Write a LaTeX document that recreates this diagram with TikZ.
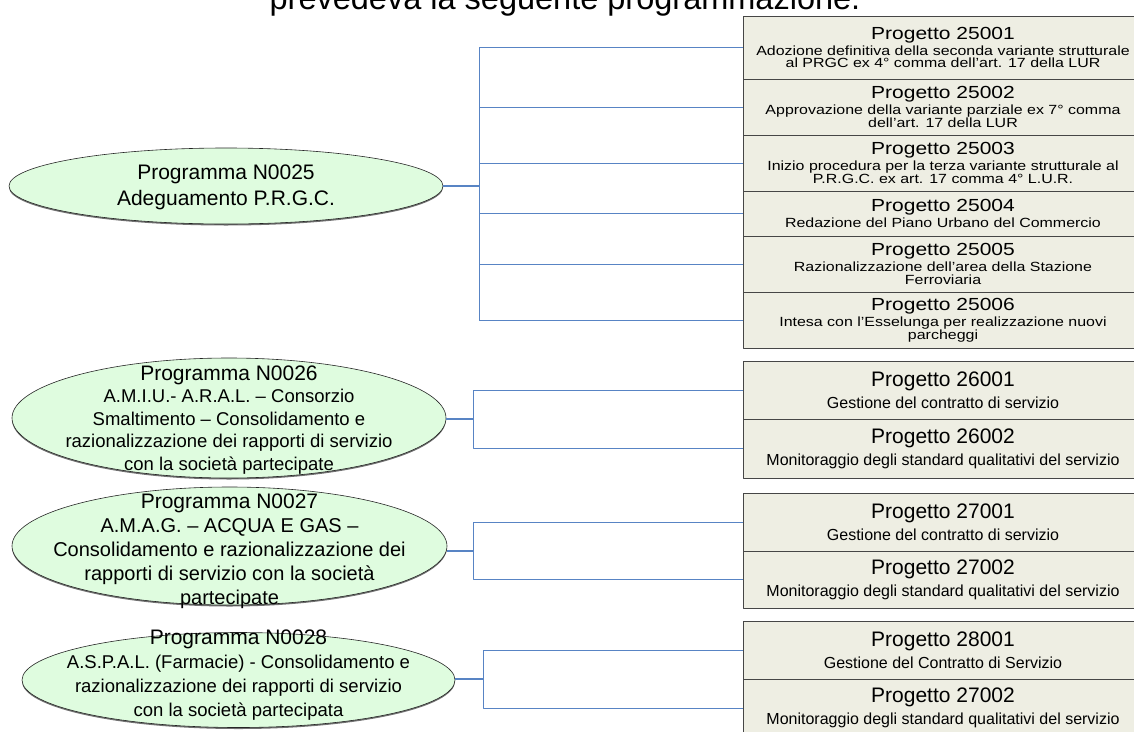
\documentclass[tikz,border=0pt]{standalone}
\usepackage{fontspec}
\setmainfont{Liberation Sans}
\newfontfamily\squish[FakeStretch=1.2]{Liberation Sans}
\usetikzlibrary{shapes.geometric,shadows}
\definecolor{progfill}{RGB}{223,252,223}
\definecolor{boxfill}{RGB}{238,238,227}
\definecolor{boxline}{RGB}{70,70,70}
\definecolor{linkblue}{RGB}{88,132,196}
\begin{document}
\begin{tikzpicture}[x=1pt,y=1pt,line join=round,
	prog/.style={ellipse,draw=black!85,line width=0.6pt,fill=progfill,inner sep=0pt,
		drop shadow={shadow xshift=0pt,shadow yshift=-1.5pt,fill=black!70,opacity=0.8}},
	progtext/.style={align=center,inner sep=0pt},
	proj/.style={rectangle,draw=boxline,line width=0.9pt,fill=boxfill,anchor=north west,
		minimum width=400pt,inner sep=0pt,outer sep=0pt,align=center},
	link/.style={draw=linkblue,line width=0.8pt},
	stub/.style={draw=linkblue,line width=1.5pt}]
	\def\picw{1134};
	\def\pich{731};
	\useasboundingbox (0,0) rectangle (\picw,-\pich);
	\clip (0,0) rectangle (\picw,-\pich);
	\node[anchor=base,inner sep=0pt,font=\fontsize{32.5}{36}\selectfont] (intro) at (565,-9) {prevedeva la seguente programmazione.};
	% programmi
	\node[prog,minimum width=434pt,minimum height=76pt] (e25) at (226,-186) {};
	\node[prog,minimum width=434pt,minimum height=120pt] (e26) at (229,-418) {};
	\node[prog,minimum width=435pt,minimum height=118pt] (e27) at (229.5,-546) {};
	\node[prog,minimum width=433pt,minimum height=95pt] (e28) at (238.5,-680) {};
	\node[progtext,font=\fontsize{21}{26}\selectfont] (t25) at (226,-187) {Programma N0025\\Adeguamento P.R.G.C.};
	\node[progtext,font=\fontsize{18.5}{22.5}\selectfont] (t26) at (229,-420) {{\fontsize{21}{22.5}\selectfont Programma N0026}\\A.M.I.U.- A.R.A.L. – Consorzio\\Smaltimento – Consolidamento e\\razionalizzazione dei rapporti di servizio\\con la società partecipate};
	\node[progtext,font=\fontsize{20}{24}\selectfont] (t27) at (229.5,-551) {{\fontsize{21}{24}\selectfont Programma N0027}\\A.M.A.G. – ACQUA E GAS –\\Consolidamento e razionalizzazione dei\\rapporti di servizio con la società\\partecipate};
	\node[progtext,font=\fontsize{18.5}{24}\selectfont] (t28) at (238.5,-675) {{\fontsize{21}{24}\selectfont Programma N0028}\\A.S.P.A.L. (Farmacie) - Consolidamento e\\razionalizzazione dei rapporti di servizio\\con la società partecipata};
	% progetti 25
	\node[proj,minimum height=63pt,font=\squish\fontsize{13.3}{12.5}\selectfont] (b25a) at (743,-16) {{\fontsize{17.5}{17}\selectfont Progetto 25001}\\[2pt]Adozione definitiva della seconda variante strutturale\\al PRGC ex 4° comma dell’art. 17 della LUR};
	\node[proj,minimum height=56pt,font=\squish\fontsize{13.3}{12.5}\selectfont] (b25b) at (b25a.south west) {{\fontsize{17.5}{17}\selectfont Progetto 25002}\\[2pt]Approvazione della variante parziale ex 7° comma\\dell’art. 17 della LUR};
	\node[proj,minimum height=56pt,font=\squish\fontsize{13.3}{12.5}\selectfont] (b25c) at (b25b.south west) {{\fontsize{17.5}{17}\selectfont Progetto 25003}\\[2pt]Inizio procedura per la terza variante strutturale al\\P.R.G.C. ex art. 17 comma 4° L.U.R.};
	\node[proj,minimum height=45pt,font=\squish\fontsize{13.3}{12.5}\selectfont] (b25d) at (b25c.south west) {{\fontsize{17.5}{17}\selectfont Progetto 25004}\\[2pt]Redazione del Piano Urbano del Commercio};
	\node[proj,minimum height=56pt,font=\squish\fontsize{13.3}{12.5}\selectfont] (b25e) at (b25d.south west) {{\fontsize{17.5}{17}\selectfont Progetto 25005}\\[2pt]Razionalizzazione dell’area della Stazione\\Ferroviaria};
	\node[proj,minimum height=56pt,font=\squish\fontsize{13.3}{12.5}\selectfont] (b25f) at (b25e.south west) {{\fontsize{17.5}{17}\selectfont Progetto 25006}\\[2pt]Intesa con l’Esselunga per realizzazione nuovi\\parcheggi};
	% progetti 26, 27, 28
	\node[proj,minimum height=58pt,font=\fontsize{16}{22}\selectfont] (b26a) at (743,-361) {{\fontsize{21}{22}\selectfont Progetto 26001}\\Gestione del contratto di servizio};
	\node[proj,minimum height=59pt,font=\fontsize{16}{22}\selectfont] (b26b) at (b26a.south west) {{\fontsize{21}{22}\selectfont Progetto 26002}\\Monitoraggio degli standard qualitativi del servizio};
	\node[proj,minimum height=58pt,font=\fontsize{16}{22}\selectfont] (b27a) at (743,-493) {{\fontsize{21}{22}\selectfont Progetto 27001}\\Gestione del contratto di servizio};
	\node[proj,minimum height=57pt,font=\fontsize{16}{22}\selectfont] (b27b) at (b27a.south west) {{\fontsize{21}{22}\selectfont Progetto 27002}\\Monitoraggio degli standard qualitativi del servizio};
	\node[proj,minimum height=58pt,font=\fontsize{16}{22}\selectfont] (b28a) at (743,-621) {{\fontsize{21}{22}\selectfont Progetto 28001}\\Gestione del Contratto di Servizio};
	\node[proj,minimum height=58pt,font=\fontsize{16}{22}\selectfont] (b28b) at (b28a.south west) {{\fontsize{21}{22}\selectfont Progetto 27002}\\Monitoraggio degli standard qualitativi del servizio};
	% collegamenti
	\coordinate (j25) at (479,-186);
	\coordinate (j26) at (473,-419);
	\coordinate (j27) at (473,-551);
	\coordinate (j28) at (483,-679);
	\draw[stub] (e25.east |- j25) -- (j25);
	\draw[link] (j25 |- b25a.west) -- (j25 |- b25f.west);
	\foreach \b in {b25a,b25b,b25c,b25d,b25e,b25f}
		\draw[link] (j25 |- \b.west) -- (\b.west);
	\draw[stub] (e26.east |- j26) -- (j26);
	\draw[link] (b26a.west) -- (j26 |- b26a.west) -- (j26 |- b26b.west) -- (b26b.west);
	\draw[stub] (e27.east |- j27) -- (j27);
	\draw[link] (b27a.west) -- (j27 |- b27a.west) -- (j27 |- b27b.west) -- (b27b.west);
	\draw[stub] (e28.east |- j28) -- (j28);
	\draw[link] (b28a.west) -- (j28 |- b28a.west) -- (j28 |- b28b.west) -- (b28b.west);
\end{tikzpicture}
\end{document}
